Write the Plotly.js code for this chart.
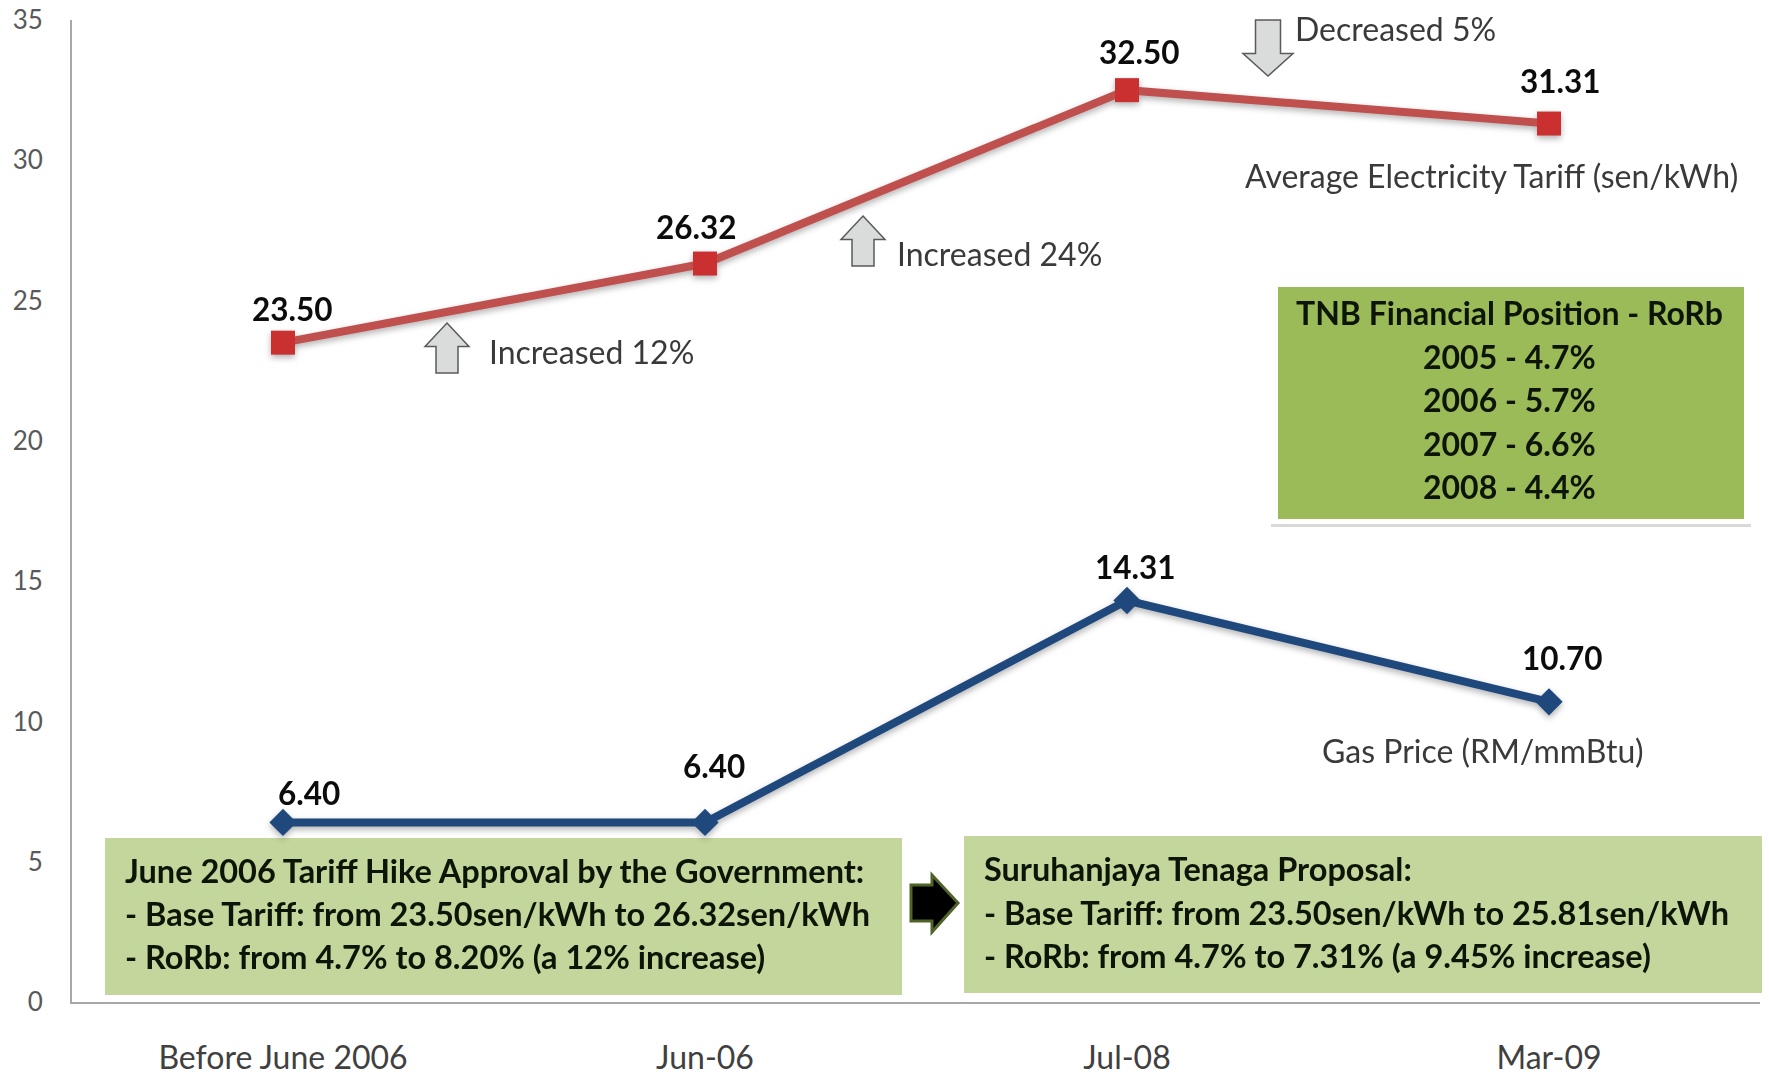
<!DOCTYPE html>
<html><head><meta charset="utf-8">
<script src="https://cdn.plot.ly/plotly-3.0.1.min.js"></script>
<style>html,body{margin:0;padding:0;background:#fff}#c{width:1769px;height:1077px}</style></head>
<body><div id="c"></div>
<script>
const categories=['Before June 2006','Jun-06','Jul-08','Mar-09'];
const tariff=[23.50,26.32,32.50,31.31];
const gas=[6.40,6.40,14.31,10.70];
const tariffName='Average Electricity Tariff (sen/kWh)';
const gasName='Gas Price (RM/mmBtu)';
const yTicks=[0,5,10,15,20,25,30,35];
const rorbLines=['TNB Financial Position - RoRb','2005 - 4.7%','2006 - 5.7%','2007 - 6.6%','2008 - 4.4%'];
const approvalLines=['June 2006 Tariff Hike Approval by the Government:','- Base Tariff: from 23.50sen/kWh to 26.32sen/kWh','- RoRb: from 4.7% to 8.20% (a 12% increase)'];
const proposalLines=['Suruhanjaya Tenaga Proposal:','- Base Tariff: from 23.50sen/kWh to 25.81sen/kWh','- RoRb: from 4.7% to 7.31% (a 9.45% increase)'];

const W=1769,H=1077,L=72,R=9,T=20,B=75;
const FONT='Lato, "Open Sans", sans-serif';
const px=x=>(x-L)/(W-L-R), py=y=>1-(y-T)/(H-T-B);
const s=1.128; // reference-shrink scale

function rect(x0,y0,x1,y1,fill,line){return {type:'rect',xref:'paper',yref:'paper',x0:px(x0),x1:px(x1),y0:py(y1),y1:py(y0),fillcolor:fill,line:line||{width:0},layer:'below'};}
function poly(pts,fill,line){return {type:'path',xref:'paper',yref:'paper',path:'M'+pts.map(p=>px(p[0])+','+py(p[1])).join('L')+'Z',fillcolor:fill,line:line,layer:'above'};}
function upArrow(x0,y0,x1,y1){const w=x1-x0,h=y1-y0,m=y0+h*0.47,a=x0+w*0.25,b=x1-w*0.25;return [[(x0+x1)/2,y0],[x1,m],[b,m],[b,y1],[a,y1],[a,m],[x0,m]];}
function downArrow(x0,y0,x1,y1){const w=x1-x0,h=y1-y0,m=y0+h*0.6,a=x0+w*0.25,b=x1-w*0.25;return [[a,y0],[b,y0],[b,m],[x1,m],[(x0+x1)/2,y1],[x0,m],[a,m]];}
const arrowLine={color:'#5a5a5a',width:1.5};
const shapes=[
 rect(1271,289,1751,527,'rgba(120,120,120,0.28)'),
 rect(1271,283,1751,524,'#ffffff'),
 rect(1278,287,1744,519,'#9bbb59'),
 rect(105,838,902,995,'#c3d69b'),
 rect(964,836,1762,993,'#c3d69b'),
 poly(upArrow(425,323,469,373),'#dadcdc',arrowLine),
 poly(upArrow(841,216,885,266),'#dadcdc',arrowLine),
 poly(downArrow(1243,20,1293,76),'#dadcdc',arrowLine),
 poly([[911,885],[932,885],[932,875],[958,903],[932,932],[932,921],[911,921]],'#000000',{color:'#4f6228',width:3})
];

function lab(cat,val,dx,dy,t){return {xref:'x',yref:'y',x:cat,y:val,xshift:dx,yshift:dy,text:'<b>'+t+'</b>',showarrow:false,font:{family:FONT,size:31.5,color:'#0c0c0c'}};}
function txt(x,y,t,o){return Object.assign({xref:'paper',yref:'paper',x:px(x),y:py(y),text:t,showarrow:false,xanchor:'left',yanchor:'middle',font:{family:FONT,size:32,color:'#3a3a3a'}},o||{});}
const darkFont={family:FONT,size:32.5,color:'#0d1508'};
const rorbFont={family:FONT,size:32,color:'#0d1508'};
const ann=[
 lab(categories[0],tariff[0],9,34,'23.50'),
 lab(categories[1],tariff[1],-9,37,'26.32'),
 lab(categories[2],tariff[2],12,38,'32.50'),
 lab(categories[3],tariff[3],11,43,'31.31'),
 lab(categories[0],gas[0],26,29,'6.40'),
 lab(categories[1],gas[1],9,56,'6.40'),
 lab(categories[2],gas[2],8,34,'14.31'),
 lab(categories[3],gas[3],13,44,'10.70'),
 txt(1102*s,156*s,tariffName),
 txt(1170*s,665*s,gasName),
 txt(432*s,312*s,'Increased 12%'),
 txt(793*s,225*s,'Increased 24%'),
 txt(1146*s,25*s,'Decreased 5%')
];
const rorbY=[277,316,354,393,431];
rorbLines.forEach((t,i)=>ann.push(txt(1338*s,rorbY[i]*s,'<b>'+t+'</b>',{xanchor:'center',font:rorbFont})));
[772,810,848].forEach((y,i)=>ann.push(txt(109*s,y*s,'<b>'+approvalLines[i]+'</b>',{font:darkFont})));
[770,809,847].forEach((y,i)=>ann.push(txt(871*s,y*s,'<b>'+proposalLines[i]+'</b>',{font:darkFont})));

const traces=[
 {x:categories,y:tariff,name:tariffName,mode:'lines+markers',type:'scatter',line:{color:'#c0504d',width:8},marker:{symbol:'square',size:24,color:'#c9302f'},cliponaxis:false},
 {x:categories,y:gas,name:gasName,mode:'lines+markers',type:'scatter',line:{color:'#1f497d',width:8},marker:{symbol:'diamond',size:21,color:'#1f497d'},cliponaxis:false}
];
const layout={width:W,height:H,margin:{l:L,r:R,t:T,b:B,pad:0},paper_bgcolor:'#fff',plot_bgcolor:'#fff',showlegend:false,
 font:{family:FONT,color:'#595959'},
 xaxis:{type:'category',categoryorder:'array',categoryarray:categories,range:[-0.5,3.5],showgrid:false,zeroline:false,showline:true,linecolor:'#a8a8a8',linewidth:2,ticks:'',ticklabelstandoff:27,tickfont:{family:FONT,size:32,color:'#404040'}},
 yaxis:{range:[0,35],tickvals:yTicks,ticktext:yTicks.map(String),showgrid:false,zeroline:false,showline:true,linecolor:'#a8a8a8',linewidth:2,ticks:'',ticklabelstandoff:22,tickfont:{family:FONT,size:26,color:'#595959'}},
 shapes:shapes,annotations:ann};
Plotly.newPlot('c',traces,layout,{displayModeBar:false,staticPlot:true}).then(()=>{
 const sl=document.querySelector('.scatterlayer');
 if(sl) sl.style.filter='drop-shadow(0 3px 3px rgba(0,0,0,0.3))';
});
</script></body></html>
